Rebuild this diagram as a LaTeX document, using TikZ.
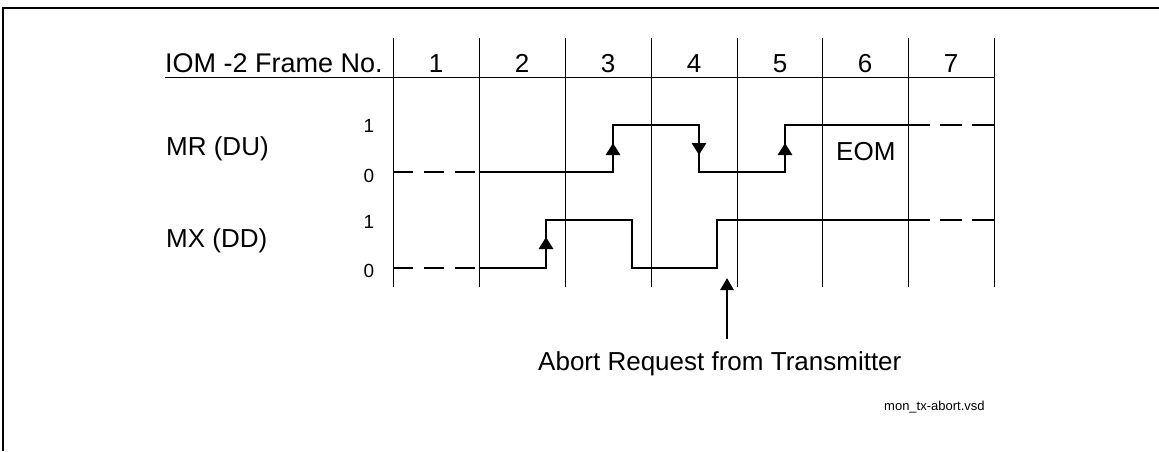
\documentclass[tikz,border=0pt]{standalone}
\usepackage{fontspec}
\setmainfont{Liberation Sans}
\usetikzlibrary{arrows.meta}
\begin{document}
\begin{tikzpicture}[x=1pt,y=-1pt,
  grid/.style={line width=1pt},
  wave/.style={line width=2.8pt},
  wavedash/.style={line width=2.8pt, dash pattern=on 20pt off 11pt},
  edgetip/.style={line width=2.8pt,-{Triangle[width=14pt,length=12pt]}},
  bigtxt/.style={font=\fontsize{26}{30}\selectfont, inner sep=0pt},
  lvltxt/.style={font=\fontsize{19}{22}\selectfont, inner sep=0pt, anchor=base},
  smalltxt/.style={font=\fontsize{13}{15}\selectfont, inner sep=0pt}
]
\useasboundingbox (0,0) rectangle (1159,451);
% frame
\draw[line width=2pt] (3,451) -- (3,8) -- (1159,8);
% grid
\foreach \x [count=\i] in {393,479,565,651,737,822,908,994}
  \coordinate (g\i) at (\x,38);
\foreach \i in {1,...,8}
  \draw[grid] (g\i) -- ++(0,249);
\coordinate (hl) at (165,77);
\coordinate (hr) at (994,77);
\draw[grid] (hl) -- (hr);
% header texts
\node[bigtxt, font=\fontsize{27}{30}\selectfont, anchor=base west] (title) at (165,72) {IOM -2 Frame No.};
\foreach \x [count=\i] in {436,522,608,694,780,865,951}
  \node[bigtxt, anchor=base] (n\i) at (\x,72) {\i};
% signal labels
\node[bigtxt, anchor=base west] (mr) at (166,155) {MR (DU)};
\node[bigtxt, anchor=base west] (mx) at (166,247) {MX (DD)};
\node[lvltxt] (mr1) at (369,132) {1};
\node[lvltxt] (mr0) at (369,182) {0};
\node[lvltxt] (mx1) at (369,228) {1};
\node[lvltxt] (mx0) at (369,277) {0};
\node[bigtxt, anchor=base west] (eom) at (836,160) {EOM};
% MR waveform
\coordinate (a0) at (393,172);
\coordinate (a1) at (479,172);
\coordinate (a2) at (613,172);
\coordinate (a3) at (613,125);
\coordinate (a4) at (699,125);
\coordinate (a5) at (699,172);
\coordinate (a6) at (785,172);
\coordinate (a7) at (785,125);
\coordinate (a8) at (908,125);
\coordinate (a9) at (994,125);
\draw[wavedash] (a0) -- (a1);
\draw[wave, line join=miter] (a1) -- (a2) -- (a3) -- (a4) -- (a5) -- (a6) -- (a7) -- (a8);
\draw[wave, dash pattern=on 22pt off 10pt] (a8) -- (a9);
\draw[edgetip] (a2) -- (613,143);
\draw[edgetip] (a4) -- (699,155);
\draw[edgetip] (a6) -- (785,143);
% MX waveform
\coordinate (b0) at (393,268);
\coordinate (b1) at (479,268);
\coordinate (b2) at (546,268);
\coordinate (b3) at (546,220);
\coordinate (b4) at (632,220);
\coordinate (b5) at (632,268);
\coordinate (b6) at (717,268);
\coordinate (b7) at (717,220);
\coordinate (b8) at (908,220);
\coordinate (b9) at (994,220);
\draw[wavedash] (b0) -- (b1);
\draw[wave, line join=miter] (b1) -- (b2) -- (b3) -- (b4) -- (b5) -- (b6) -- (b7) -- (b8);
\draw[wave, dash pattern=on 22pt off 10pt] (b8) -- (b9);
\draw[edgetip] (b2) -- (546,237);
% abort arrow
\node[bigtxt, anchor=base west] (abort) at (538,370) {Abort Request from Transmitter};
\coordinate (abtip) at (727,278);
\draw[line width=2.8pt,-{Triangle[width=13pt,length=12pt]}] (727,339) -- (abtip);
% file name
\node[smalltxt, anchor=base west] (fname) at (884,410) {mon\_tx-abort.vsd};
\end{tikzpicture}
\end{document}
